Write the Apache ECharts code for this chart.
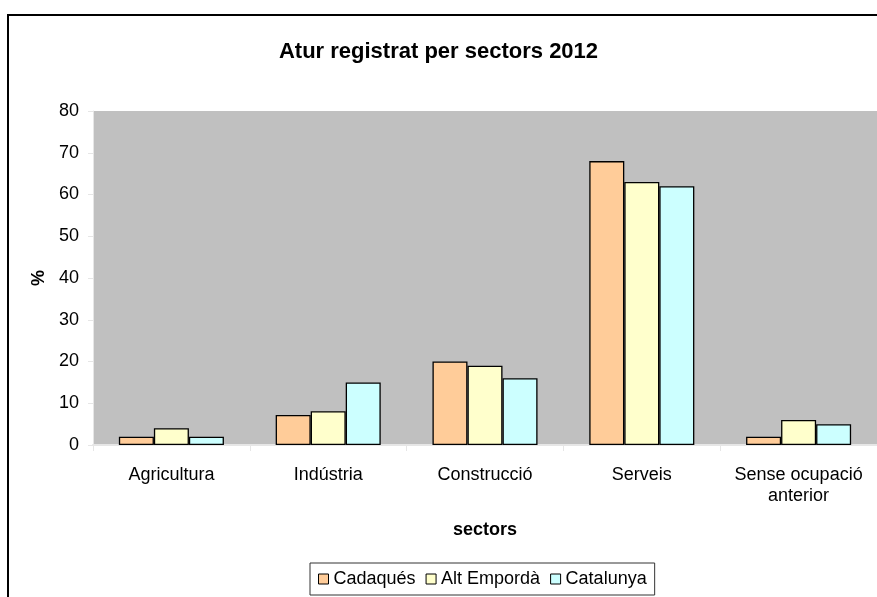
<!DOCTYPE html>
<html><head><meta charset="utf-8">
<script src="https://cdn.jsdelivr.net/npm/echarts@6/dist/echarts.min.js"></script>
<style>html,body{margin:0;padding:0;background:#fff}#c{width:877px;height:597px}</style>
</head><body><div id="c"></div>
<script>
const categories = ['Agricultura', 'Indústria', 'Construcció', 'Serveis', 'Sense ocupació\nanterior'];
const seriesNames = ['Cadaqués', 'Alt Empordà', 'Catalunya'];
const cadaques = [2.0, 7.2, 20.0, 68.0, 2.0];
const altEmporda = [4.0, 8.1, 19.0, 63.0, 6.0];
const catalunya = [2.0, 15.0, 16.0, 62.0, 5.0];
const colors = ['#FFCC99', '#FFFFCC', '#CCFFFF'];
const FONT = 'Liberation Sans, Arial, sans-serif';

const chart = echarts.init(document.getElementById('c'), null, {renderer: 'canvas'});
const values = [cadaques, altEmporda, catalunya];
chart.setOption({
  animation: false,
  backgroundColor: '#fff',
  graphic: [{
    type: 'rect', z: -10,
    shape: {x: 8, y: 15, width: 900, height: 620},
    style: {fill: 'none', stroke: '#000', lineWidth: 2}
  }],
  title: {
    text: 'Atur registrat per sectors 2012',
    left: 'center', top: 36,
    textStyle: {fontFamily: FONT, fontSize: 22, fontWeight: 'bold', color: '#000'}
  },
  grid: {
    left: 93, right: 0, top: 111, bottom: 152,
    show: true, backgroundColor: '#C0C0C0', borderWidth: 0
  },
  legend: {
    data: seriesNames,
    left: 310, top: 563,
    orient: 'horizontal',
    itemWidth: 10, itemHeight: 10, itemGap: 10,
    padding: [7, 8, 7, 8],
    borderColor: '#333', borderWidth: 1,
    icon: 'rect',
    itemStyle: {borderColor: '#000', borderWidth: 1},
    textStyle: {fontFamily: FONT, fontSize: 18, color: '#000'}
  },
  xAxis: {
    type: 'category',
    data: categories,
    name: 'sectors',
    nameLocation: 'middle',
    nameGap: 76,
    nameTextStyle: {fontFamily: FONT, fontSize: 18, fontWeight: 'bold', color: '#000'},
    axisLine: {show: true, lineStyle: {color: '#E6E6E6', width: 2}},
    axisTick: {show: true, length: 6, lineStyle: {color: '#E6E6E6'}},
    axisLabel: {interval: 0, fontFamily: FONT, fontSize: 18, color: '#000', margin: 20, lineHeight: 21},
    splitLine: {show: false}
  },
  yAxis: {
    type: 'value',
    min: 0, max: 80, interval: 10,
    name: '%',
    nameLocation: 'middle',
    nameGap: 45,
    nameRotate: 90,
    nameTextStyle: {fontFamily: FONT, fontSize: 18, fontWeight: 'bold', color: '#000'},
    axisLine: {show: true, lineStyle: {color: '#E6E6E6', width: 1}},
    axisTick: {show: true, length: 5, lineStyle: {color: '#E6E6E6'}},
    axisLabel: {fontFamily: FONT, fontSize: 18, color: '#000', margin: 14},
    splitLine: {show: false}
  },
  series: seriesNames.map((n, i) => ({
    name: n,
    type: 'bar',
    data: values[i],
    barGap: '0%',
    barCategoryGap: '33%',
    itemStyle: {color: colors[i], borderColor: '#000', borderWidth: 1.3}
  }))
});
</script></body></html>
